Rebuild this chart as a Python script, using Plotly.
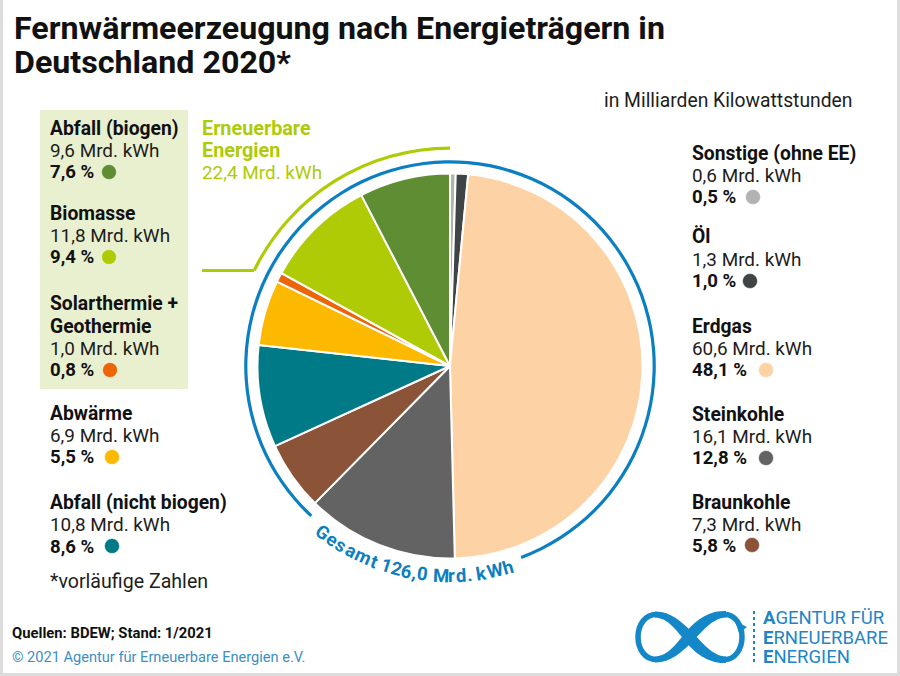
import math
import plotly.graph_objects as go

# ---- data (clockwise from 12 o'clock) ----
names = ["Sonstige (ohne EE)", "Öl", "Erdgas", "Steinkohle", "Braunkohle",
         "Abfall (nicht biogen)", "Abwärme", "Solarthermie +<br>Geothermie", "Biomasse", "Abfall (biogen)"]
values = [0.6, 1.3, 60.6, 16.1, 7.3, 10.8, 6.9, 1.0, 11.8, 9.6]
percents = ["0,5", "1,0", "48,1", "12,8", "5,8", "8,6", "5,5", "0,8", "9,4", "7,6"]
colors = ["#B2B2B2", "#3F4545", "#FDD3A5", "#636363", "#8B5438",
          "#007A87", "#FDB900", "#EC6608", "#AECB06", "#5F8D33"]

title_lines = ["Fernwärmeerzeugung nach Energieträgern in", "Deutschland 2020*"]
unit_text = "in Milliarden Kilowattstunden"
total_text = "Gesamt 126,0 Mrd. kWh"
ee_lines = ["Erneuerbare", "Energien"]
ee_value = "22,4 Mrd. kWh"

# ---- layout constants (pixels) ----
W, H = 900, 676
CX, CY, R = 450, 366, 192.5
FONT = "Roboto"
BLUE = "#0B7FC1"
GREEN = "#AECB06"
TXT = "#1d1d1b"
LOGO = "#1487C9"
# x of label, y of name line(s), x/y of dot
pos = [
    (692, [153, 175, 197], 753, 197),
    (692, [236, 259, 281], 750, 281),
    (692, [326, 348, 370], 766, 370),
    (692, [414, 436, 458], 766, 458),
    (692, [502, 524, 546], 752, 545),
    (50,  [502, 524, 547], 112, 546),
    (50,  [413, 435, 457], 112, 457),
    (50,  [303, 348, 370], 110, 370),
    (50,  [213, 235, 257], 109, 257),
    (50,  [128, 150, 172], 109, 172),
]


def dom(cx, cy, r):
    return dict(x=[(cx - r) / W, (cx + r) / W], y=[1 - (cy + r) / H, 1 - (cy - r) / H])


fig = go.Figure()

fig.add_trace(go.Pie(values=values, labels=[n.replace("<br>", " ") for n in names], sort=False,
                     direction="clockwise", rotation=0, textinfo="none", hoverinfo="skip",
                     marker=dict(colors=colors, line=dict(color="white", width=2)),
                     domain=dom(CX, CY, R), showlegend=False))


def ring(r, width, start, span, color):
    fig.add_trace(go.Pie(values=[span, 360 - span], sort=False, direction="clockwise", rotation=start,
                         hole=(r - width) / r, textinfo="none", hoverinfo="skip",
                         marker=dict(colors=[color, "rgba(0,0,0,0)"], line=dict(width=0)),
                         domain=dom(CX, CY, r), showlegend=False))


ring(205.8, 3.2, 222.8, 296.8, BLUE)
ring(219.5, 3.2, 296, 64, GREEN)

# legend dots
fig.add_trace(go.Scatter(x=[p[2] for p in pos], y=[p[3] for p in pos], mode="markers",
                         marker=dict(size=15, color=colors, line=dict(color="rgba(255,255,255,0.5)", width=1)),
                         hoverinfo="skip", showlegend=False))

ann = []


def T(x, y, s, size=18.9, color=TXT, bold=False, anchor="left", angle=0):
    ann.append(dict(x=x, y=y, xref="x", yref="y", text=f"<b>{s}</b>" if bold else s, showarrow=False,
                    xanchor=anchor, yanchor="middle", textangle=angle, borderpad=0, borderwidth=0,
                    font=dict(family=FONT, size=size, color=color)))


BOLD = 19.3
DARK = "#111111"
# title
T(14, 28, title_lines[0], 32.2, DARK, True)
T(14, 62, title_lines[1], 32.2, DARK, True)
T(604, 100, unit_text, 19.3)

# labels
for n, v, p, (x, ys, _, _) in zip(names, values, percents, pos):
    parts = n.split("<br>")
    if len(parts) == 2:
        T(x, 303, parts[0], BOLD, DARK, True)
        T(x, 326, parts[1], BOLD, DARK, True)
    else:
        T(x, ys[0], n, BOLD, DARK, True)
    T(x, ys[1], f"{v:.1f}".replace(".", ",") + " Mrd. kWh", 18.9)
    T(x, ys[2], f"{p} %", 18.6, DARK, True)

T(202, 128, ee_lines[0], 19.8, GREEN, True)
T(202, 150, ee_lines[1], 19.8, GREEN, True)
T(202, 172, ee_value, 18.9, GREEN)
T(50, 581, "*vorläufige Zahlen", 19.6)
T(12, 633, "Quellen: BDEW; Stand: 1/2021", 14.8, DARK, True)
T(12, 657, "© 2021 Agentur für Erneuerbare Energien e.V.", 14.6, "#3A8FC4")

# curved total label
cw = {" ": 0.45, ",": 0.38, ".": 0.38, "1": 0.75, "t": 0.6, "r": 0.6, "d": 0.95, "M": 1.3, "W": 1.3, "m": 1.4,
      "G": 1.05, "h": 0.95, "k": 0.85}
wid = [cw.get(c, 0.9) for c in total_text]
tot = sum(wid)
a0, a1 = 39, -17.5
acc = 0
for c, w in zip(total_text, wid):
    th = a0 + (a1 - a0) * (acc + w / 2) / tot
    acc += w
    if c == " ":
        continue
    rad = math.radians(th)
    T(CX - 210 * math.sin(rad), CY + 210 * math.cos(rad), f"{c}", 18.5, BLUE, True, "center", th)

# logo text
lx = 763
for i, (a, b) in enumerate([("A", "GENTUR FÜR"), ("E", "RNEUERBARE"), ("E", "NERGIEN")]):
    T(lx, 618 + 19.5 * i, f"<b>{a}</b>{b}", 18.5, "#1E86C6")

BAND_A = ("M655,611.5 C670,611 682,622 692,632 C702,642 712,656 726,656.5 L726,663 "
          "C708,664 694,652 686,642 C676,630 668,618 655,617.5 Z")
BAND_B = ("M655,662.5 C670,663 682,652 692,642 C702,632 712,618 726,617.5 L726,611 "
          "C708,610 694,622 686,632 C676,644 668,656 655,656.5 Z")

shapes = [
    dict(type="rect", xref="x", yref="y", x0=40, x1=188, y0=110, y1=389, fillcolor="#E9F0CF", line_width=0, layer="below"),
    dict(type="line", xref="x", yref="y", x0=202, x1=254, y0=270.5, y1=270.5, line=dict(color=GREEN, width=3)),
    # frame
    dict(type="rect", xref="x", yref="y", x0=0, x1=3, y0=0, y1=676, fillcolor="#DCDCDC", line_width=0),
    dict(type="rect", xref="x", yref="y", x0=897, x1=900, y0=0, y1=676, fillcolor="#DCDCDC", line_width=0),
    dict(type="rect", xref="x", yref="y", x0=0, x1=900, y0=673, y1=676, fillcolor="#DCDCDC", line_width=0),
    # logo
    dict(type="path", xref="x", yref="y", line=dict(color=LOGO, width=5.5),
         path="M656,614.5 C645,614.5 638,625 638,637 C638,649 645,659.5 656,659.5"),
    dict(type="path", xref="x", yref="y", line=dict(color=LOGO, width=5.5),
         path="M725,614.5 C735,614.5 742,625 742,637 C742,649 735,659.5 725,659.5"),
    dict(type="path", xref="x", yref="y", fillcolor=LOGO, line_width=0, path=BAND_A),
    dict(type="path", xref="x", yref="y", fillcolor=LOGO, line_width=0, path=BAND_B),
    dict(type="path", xref="x", yref="y", fillcolor=LOGO, line_width=0,
         path="M735,621 L747,627 L739,633 Z"),
    dict(type="line", xref="x", yref="y", x0=754, x1=754, y0=611, y1=663,
         line=dict(color=LOGO, width=2, dash="dot")),
]

fig.update_layout(
    width=W, height=H, margin=dict(l=0, r=0, t=0, b=0), paper_bgcolor="white", plot_bgcolor="white",
    xaxis=dict(range=[0, W], visible=False, fixedrange=True),
    yaxis=dict(range=[H, 0], visible=False, fixedrange=True),
    annotations=ann, shapes=shapes, showlegend=False,
)

fig.write_html("out.html", config=dict(displayModeBar=False),
               post_script="document.body.style.margin='0';document.body.style.overflow='hidden';")
